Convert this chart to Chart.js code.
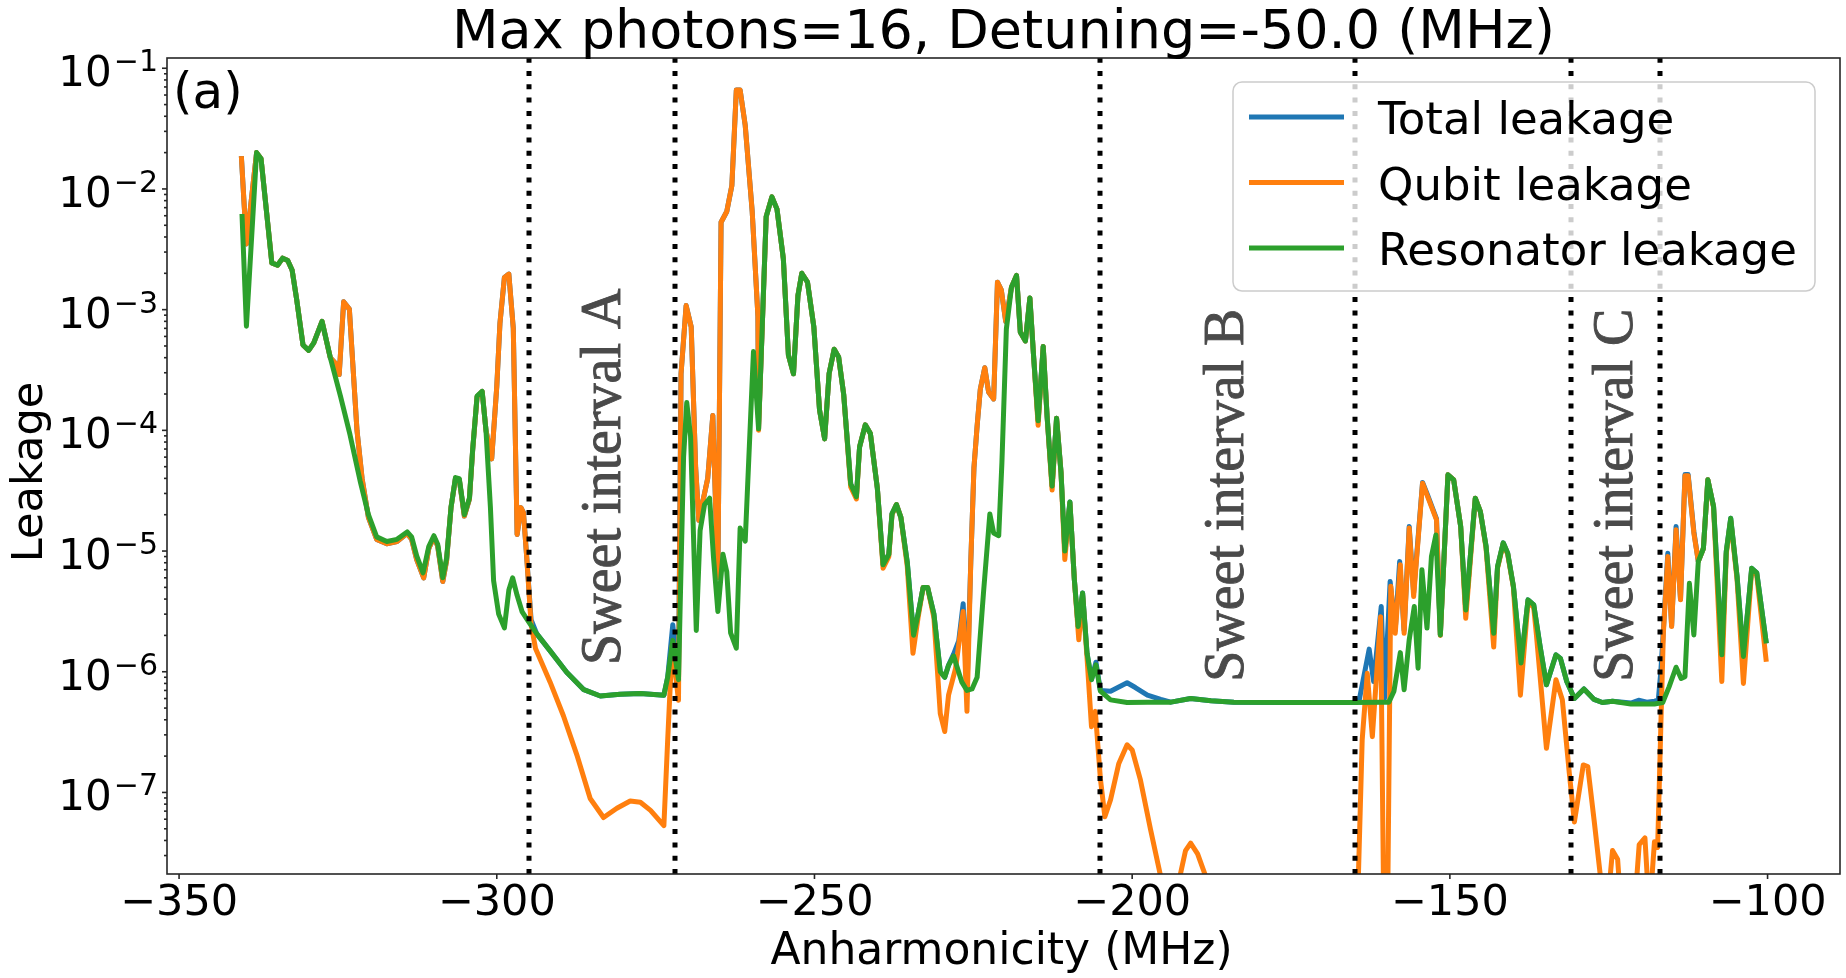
<!DOCTYPE html>
<html>
<head>
<meta charset="utf-8">
<title>Leakage vs anharmonicity</title>
<script src="https://cdn.jsdelivr.net/npm/chart.js@4.4.1/dist/chart.umd.min.js"></script>
<style>
  html, body { margin: 0; padding: 0; background: #fff; }
  canvas { display: block; }
</style>
</head>
<body>
<canvas id="leakage-chart" width="1846" height="978"></canvas>
<script>
// Leakage: [anharmonicity (MHz), leakage]
const resonatorLeakage = [
  [-340.1, 6.2e-3], [-339.4, 7.3e-4], [-337.8, 2.0e-2], [-337.1, 1.78e-2], [-335.4, 2.44e-3],
  [-334.5, 2.33e-3], [-333.7, 2.67e-3], [-332.9, 2.55e-3], [-332.2, 2.12e-3], [-331.5, 1.22e-3],
  [-330.5, 5.1e-4], [-329.6, 4.6e-4], [-328.8, 5.3e-4], [-327.5, 8.0e-4], [-326.2, 4.0e-4],
  [-324.6, 1.92e-4], [-323.1, 9.2e-5], [-321.5, 3.8e-5], [-320.2, 2.0e-5], [-318.9, 1.31e-5],
  [-317.3, 1.2e-5], [-315.7, 1.25e-5], [-314.1, 1.44e-5], [-313.4, 1.31e-5], [-312.6, 9.1e-6],
  [-311.6, 6.6e-6], [-310.7, 1.09e-5], [-309.9, 1.34e-5], [-309.3, 1.14e-5], [-308.5, 6.0e-6],
  [-307.9, 8.7e-6], [-307.2, 2.3e-5], [-306.5, 4.06e-5], [-305.9, 3.98e-5], [-305.1, 2.0e-5],
  [-304.3, 2.75e-5], [-303.8, 6.9e-5], [-303.1, 1.92e-4], [-302.3, 2.1e-4], [-301.7, 1.0e-4],
  [-301.0, 2.3e-5], [-300.5, 5.7e-6], [-299.7, 3.0e-6], [-298.8, 2.31e-6], [-298.1, 4.75e-6],
  [-297.5, 6.0e-6], [-296.8, 4.3e-6], [-296.0, 3.13e-6], [-295.0, 2.6e-6], [-293.7, 2.06e-6],
  [-291.6, 1.49e-6], [-289.0, 9.9e-7], [-286.3, 7.1e-7], [-283.7, 6.3e-7], [-280.6, 6.5e-7],
  [-277.4, 6.6e-7], [-275.8, 6.5e-7], [-273.7, 6.4e-7], [-273.1, 9.0e-7], [-272.3, 1.82e-6],
  [-271.4, 8.6e-7], [-270.6, 6.0e-5], [-270.1, 1.7e-4], [-269.5, 8.9e-5], [-268.6, 2.2e-6],
  [-268.0, 1.48e-5], [-267.3, 2.43e-5], [-266.5, 2.74e-5], [-265.9, 9.0e-6], [-265.2, 3.15e-6],
  [-264.4, 9.4e-6], [-263.8, 6.7e-6], [-263.2, 2.1e-6], [-262.3, 1.57e-6], [-261.7, 1.55e-5],
  [-260.9, 1.21e-5], [-259.6, 4.5e-4], [-258.8, 1.03e-4], [-257.6, 5.9e-3], [-256.7, 8.6e-3],
  [-255.9, 6.8e-3], [-254.9, 2.65e-3], [-254.1, 4.2e-4], [-253.3, 2.94e-4], [-252.6, 1.31e-3],
  [-252.0, 2.0e-3], [-251.1, 1.69e-3], [-250.1, 7.2e-4], [-249.2, 1.47e-4], [-248.4, 8.5e-5],
  [-247.7, 2.94e-4], [-246.9, 4.7e-4], [-246.2, 4.06e-4], [-245.4, 1.98e-4], [-244.3, 3.6e-5],
  [-243.4, 2.82e-5], [-242.9, 7.3e-5], [-242.0, 1.11e-4], [-241.2, 9.4e-5], [-240.1, 3.3e-5],
  [-239.2, 7.7e-6], [-238.3, 9.4e-6], [-237.8, 2.03e-5], [-237.1, 2.43e-5], [-236.4, 1.9e-5],
  [-235.4, 8.1e-6], [-234.4, 2.01e-6], [-233.7, 3.0e-6], [-232.9, 5.0e-6], [-232.2, 5.0e-6],
  [-231.2, 3.0e-6], [-230.2, 1.0e-6], [-229.5, 9.0e-7], [-228.9, 1.13e-6], [-228.1, 1.35e-6],
  [-226.8, 8.2e-7], [-226.0, 7.0e-7], [-225.2, 7.2e-7], [-224.4, 9.0e-7], [-223.4, 4.5e-6],
  [-222.4, 2.03e-5], [-221.8, 1.41e-5], [-221.0, 1.34e-5], [-220.5, 5.4e-5], [-219.8, 6.9e-4],
  [-219.0, 1.53e-3], [-218.2, 1.92e-3], [-217.6, 6.5e-4], [-216.8, 5.5e-4], [-216.1, 1.25e-3],
  [-215.5, 4.0e-4], [-214.8, 1.2e-4], [-214.0, 4.95e-4], [-213.4, 1.33e-4], [-212.6, 3.45e-5],
  [-211.9, 1.26e-4], [-211.2, 4.5e-5], [-210.6, 1.0e-5], [-209.8, 2.55e-5], [-209.1, 5.8e-6],
  [-208.5, 2.37e-6], [-207.8, 4.5e-6], [-207.1, 1.42e-6], [-206.4, 8.6e-7], [-205.7, 1.14e-6],
  [-205.0, 6.9e-7], [-203.4, 5.85e-7], [-200.8, 5.56e-7], [-197.6, 5.6e-7], [-193.9, 5.6e-7],
  [-190.8, 6.0e-7], [-187.6, 5.74e-7], [-184.0, 5.6e-7], [-175.0, 5.55e-7], [-165.1, 5.56e-7],
  [-160.9, 5.6e-7], [-159.6, 5.6e-7], [-158.8, 6.9e-7], [-157.8, 1.44e-6], [-157.2, 7.1e-7],
  [-156.4, 1.84e-6], [-155.6, 3.47e-6], [-155.0, 1.07e-6], [-154.4, 7.0e-6], [-153.6, 2.3e-6],
  [-152.9, 9.0e-6], [-152.2, 1.36e-5], [-151.5, 2.02e-6], [-150.3, 4.28e-5], [-149.4, 3.88e-5],
  [-148.3, 1.6e-5], [-147.5, 3.25e-6], [-146.0, 2.74e-5], [-145.2, 2.12e-5], [-144.3, 1.09e-5],
  [-143.1, 2.08e-6], [-142.5, 7.4e-6], [-141.6, 1.17e-5], [-140.9, 9.6e-6], [-140.0, 5.1e-6],
  [-138.8, 1.18e-6], [-137.7, 3.94e-6], [-136.8, 3.58e-6], [-135.8, 1.62e-6], [-134.8, 7.8e-7],
  [-133.3, 1.38e-6], [-132.6, 1.29e-6], [-131.6, 8.3e-7], [-130.4, 6.0e-7], [-128.9, 7.2e-7],
  [-127.3, 5.9e-7], [-126.0, 5.56e-7], [-124.4, 5.7e-7], [-121.5, 5.4e-7], [-117.8, 5.4e-7],
  [-116.5, 5.56e-7], [-115.5, 7.5e-7], [-114.4, 1.09e-6], [-113.6, 8.8e-7], [-113.0, 9.1e-7],
  [-112.3, 5.4e-6], [-111.6, 2.02e-6], [-110.9, 8.2e-6], [-110.1, 1.05e-5], [-109.4, 3.9e-5],
  [-108.5, 2.34e-5], [-107.2, 1.38e-6], [-106.5, 9.9e-6], [-105.8, 1.87e-5], [-104.8, 6.15e-6],
  [-103.8, 1.34e-6], [-102.5, 7.2e-6], [-101.7, 6.6e-6], [-100.2, 1.72e-6],
];

const qubitLeakage = [
  [-340.2, 1.87e-2], [-339.4, 3.5e-3], [-337.8, 2.0e-2], [-337.1, 1.78e-2], [-335.4, 2.44e-3],
  [-334.5, 2.33e-3], [-333.7, 2.67e-3], [-332.9, 2.55e-3], [-332.2, 2.12e-3], [-331.5, 1.22e-3],
  [-330.5, 5.1e-4], [-329.6, 4.6e-4], [-328.8, 5.3e-4], [-327.5, 8.0e-4], [-326.2, 4.0e-4],
  [-325.4, 3.6e-4], [-324.8, 2.9e-4], [-324.1, 1.16e-3], [-323.2, 1.01e-3], [-322.0, 1.0e-4],
  [-321.2, 4.0e-5], [-320.2, 1.9e-5], [-318.9, 1.25e-5], [-317.3, 1.15e-5], [-315.7, 1.2e-5],
  [-314.1, 1.4e-5], [-313.4, 1.25e-5], [-312.6, 8.5e-6], [-311.5, 6.0e-6], [-310.7, 1.05e-5],
  [-309.9, 1.3e-5], [-309.3, 1.1e-5], [-308.5, 5.6e-6], [-307.9, 8.3e-6], [-307.2, 2.3e-5],
  [-306.5, 4.0e-5], [-305.9, 3.9e-5], [-305.1, 1.95e-5], [-304.3, 2.7e-5], [-303.8, 6.8e-5],
  [-303.1, 1.9e-4], [-302.3, 2.1e-4], [-301.7, 1.0e-4], [-300.8, 5.8e-5], [-300.0, 2.3e-4],
  [-299.5, 7.7e-4], [-298.8, 1.85e-3], [-298.1, 1.97e-3], [-297.4, 7.0e-4], [-296.8, 1.37e-5],
  [-296.2, 2.29e-5], [-295.8, 2.08e-5], [-295.3, 9.1e-6], [-294.6, 2.48e-6], [-293.9, 1.56e-6],
  [-291.6, 8.2e-7], [-289.5, 4.3e-7], [-287.4, 2.05e-7], [-285.3, 8.9e-8], [-283.2, 6.2e-8],
  [-281.1, 7.4e-8], [-279.0, 8.5e-8], [-277.4, 8.3e-8], [-275.8, 7.1e-8], [-273.7, 5.3e-8],
  [-273.1, 2.73e-7], [-272.4, 1.64e-6], [-271.4, 5.8e-7], [-271.0, 2.94e-4], [-270.2, 1.08e-3],
  [-269.4, 7.2e-4], [-268.7, 4.9e-5], [-268.2, 1.8e-5], [-266.8, 4.0e-5], [-266.0, 1.33e-4],
  [-265.2, 6.0e-6], [-264.7, 5.3e-3], [-263.8, 6.5e-3], [-263.0, 1.07e-2], [-262.3, 6.6e-2],
  [-261.7, 6.6e-2], [-260.9, 3.37e-2], [-259.8, 6.5e-3], [-258.9, 8.8e-4], [-258.8, 1.0e-4],
  [-257.6, 5.9e-3], [-256.7, 8.6e-3], [-255.9, 6.8e-3], [-254.9, 2.65e-3], [-254.1, 4.2e-4],
  [-253.3, 2.94e-4], [-252.6, 1.31e-3], [-252.0, 2.0e-3], [-251.1, 1.69e-3], [-250.1, 7.2e-4],
  [-249.2, 1.47e-4], [-248.4, 8.5e-5], [-247.7, 2.94e-4], [-246.9, 4.7e-4], [-246.2, 4.06e-4],
  [-245.4, 1.98e-4], [-244.3, 3.4e-5], [-243.4, 2.7e-5], [-242.9, 7.3e-5], [-242.0, 1.11e-4],
  [-241.2, 9.4e-5], [-240.1, 3.3e-5], [-239.2, 7.2e-6], [-238.3, 9.0e-6], [-237.8, 2.0e-5],
  [-237.1, 2.43e-5], [-236.4, 1.9e-5], [-235.4, 7.5e-6], [-234.5, 1.42e-6], [-233.7, 2.8e-6],
  [-232.9, 5.0e-6], [-232.2, 5.0e-6], [-231.2, 2.8e-6], [-230.2, 4.5e-7], [-229.5, 3.2e-7],
  [-228.9, 6.4e-7], [-227.8, 1.06e-6], [-226.6, 3.15e-6], [-226.0, 4.7e-7], [-225.4, 8.1e-6],
  [-224.9, 4.9e-5], [-224.4, 1.09e-4], [-223.9, 2.19e-4], [-223.2, 3.3e-4], [-222.6, 2.08e-4],
  [-221.8, 1.82e-4], [-221.2, 1.69e-3], [-220.6, 1.46e-3], [-219.9, 8.0e-4], [-219.0, 1.53e-3],
  [-218.2, 1.92e-3], [-217.6, 6.5e-4], [-216.8, 5.5e-4], [-216.1, 1.25e-3], [-215.5, 4.0e-4],
  [-214.8, 1.1e-4], [-214.0, 4.95e-4], [-213.4, 1.33e-4], [-212.6, 3.2e-5], [-211.9, 1.26e-4],
  [-211.2, 4.5e-5], [-210.6, 8.5e-6], [-209.8, 2.5e-5], [-209.1, 5.8e-6], [-208.4, 1.84e-6],
  [-207.8, 4.3e-6], [-207.1, 1.3e-6], [-206.4, 3.5e-7], [-205.8, 4.7e-7], [-205.0, 1.3e-7],
  [-204.3, 6.3e-8], [-203.4, 8.7e-8], [-202.1, 1.74e-7], [-200.8, 2.48e-7], [-200.0, 2.25e-7],
  [-198.7, 1.27e-7], [-197.1, 4.9e-8], [-195.5, 2.0e-8], [-194.6, 1.0e-8], [-193.1, 1.0e-8],
  [-192.5, 2.0e-8], [-191.6, 3.3e-8], [-190.8, 3.8e-8], [-189.7, 3.1e-8], [-188.4, 2.0e-8],
  [-187.6, 1.0e-8], [-165.5, 1.0e-8], [-164.4, 2.0e-8], [-163.8, 2.72e-7], [-163.0, 9.7e-7],
  [-162.2, 2.9e-7], [-160.9, 2.86e-6], [-160.4, 1.0e-8], [-159.8, 1.0e-8], [-159.3, 5.1e-6],
  [-158.6, 2.08e-6], [-157.8, 7.7e-6], [-157.2, 2.08e-6], [-156.4, 1.55e-5], [-155.7, 4.2e-6],
  [-154.3, 3.65e-5], [-153.5, 2.82e-5], [-152.1, 1.81e-5], [-151.5, 2.0e-6], [-150.3, 4.28e-5],
  [-149.4, 3.88e-5], [-148.3, 1.6e-5], [-147.5, 2.77e-6], [-146.0, 2.74e-5], [-145.2, 2.12e-5],
  [-144.3, 1.05e-5], [-143.1, 1.6e-6], [-142.5, 7.2e-6], [-141.6, 1.15e-5], [-140.9, 9.4e-6],
  [-140.0, 5.0e-6], [-138.9, 6.4e-7], [-137.7, 3.8e-6], [-136.8, 3.4e-6], [-136.4, 2.08e-6],
  [-134.8, 2.32e-7], [-133.3, 8.6e-7], [-132.3, 5.85e-7], [-131.2, 1.44e-7], [-130.4, 5.7e-8],
  [-129.0, 1.69e-7], [-128.3, 1.64e-7], [-127.3, 5.9e-8], [-126.2, 1.8e-8], [-125.3, 1.0e-8],
  [-124.4, 3.3e-8], [-123.6, 2.8e-8], [-123.0, 1.0e-8], [-121.0, 1.0e-8], [-120.2, 3.7e-8],
  [-119.3, 4.2e-8], [-118.6, 1.0e-8], [-117.8, 3.9e-8], [-117.3, 3.5e-8], [-116.8, 3.5e-7],
  [-116.4, 2.08e-6], [-115.7, 9.0e-6], [-115.1, 2.37e-6], [-114.4, 1.5e-5], [-113.7, 3.94e-6],
  [-113.0, 4.2e-5], [-112.5, 4.2e-5], [-111.6, 1.41e-5], [-110.9, 8.2e-6], [-110.1, 1.05e-5],
  [-109.4, 3.9e-5], [-108.5, 2.3e-5], [-107.2, 8.3e-7], [-106.5, 9.5e-6], [-105.8, 1.8e-5],
  [-104.8, 5.8e-6], [-103.8, 8.0e-7], [-102.5, 7.0e-6], [-101.7, 6.3e-6], [-100.2, 1.21e-6],
];

const totalLeakage = [
  [-340.2, 1.87e-2], [-339.4, 3.5e-3], [-337.8, 2.0e-2], [-337.1, 1.78e-2], [-335.4, 2.44e-3],
  [-334.5, 2.33e-3], [-333.7, 2.67e-3], [-332.9, 2.55e-3], [-332.2, 2.12e-3], [-331.5, 1.22e-3],
  [-330.5, 5.1e-4], [-329.6, 4.6e-4], [-328.8, 5.3e-4], [-327.5, 8.0e-4], [-326.2, 4.0e-4],
  [-325.4, 3.6e-4], [-324.8, 2.9e-4], [-324.1, 1.16e-3], [-323.2, 1.01e-3], [-322.0, 1.0e-4],
  [-321.2, 4.0e-5], [-320.2, 1.9e-5], [-318.9, 1.25e-5], [-317.3, 1.15e-5], [-315.7, 1.2e-5],
  [-314.1, 1.4e-5], [-313.4, 1.25e-5], [-312.6, 8.5e-6], [-311.5, 6.0e-6], [-310.7, 1.05e-5],
  [-309.9, 1.3e-5], [-309.3, 1.1e-5], [-308.5, 5.6e-6], [-307.9, 8.3e-6], [-307.2, 2.3e-5],
  [-306.5, 4.0e-5], [-305.9, 3.9e-5], [-305.1, 1.95e-5], [-304.3, 2.7e-5], [-303.8, 6.8e-5],
  [-303.1, 1.9e-4], [-302.3, 2.1e-4], [-301.7, 1.0e-4], [-300.8, 5.8e-5], [-300.0, 2.3e-4],
  [-299.5, 7.7e-4], [-298.8, 1.85e-3], [-298.1, 1.97e-3], [-297.4, 7.0e-4], [-296.8, 1.37e-5],
  [-296.2, 2.29e-5], [-295.8, 2.08e-5], [-295.3, 9.1e-6], [-294.6, 2.7e-6], [-293.7, 2.06e-6],
  [-291.6, 1.49e-6], [-289.0, 9.9e-7], [-286.3, 7.1e-7], [-283.7, 6.3e-7], [-280.6, 6.5e-7],
  [-277.4, 6.6e-7], [-275.8, 6.5e-7], [-273.7, 6.4e-7], [-273.1, 9.0e-7], [-272.3, 2.45e-6],
  [-271.4, 8.6e-7], [-271.0, 2.94e-4], [-270.2, 1.08e-3], [-269.4, 7.2e-4], [-268.7, 4.9e-5],
  [-268.2, 1.8e-5], [-266.8, 4.0e-5], [-266.0, 1.33e-4], [-265.2, 6.0e-6], [-264.7, 5.3e-3],
  [-263.8, 6.5e-3], [-263.0, 1.07e-2], [-262.3, 6.6e-2], [-261.7, 6.6e-2], [-260.9, 3.37e-2],
  [-259.8, 6.5e-3], [-258.9, 8.8e-4], [-258.8, 1.03e-4], [-257.6, 5.9e-3], [-256.7, 8.6e-3],
  [-255.9, 6.8e-3], [-254.9, 2.65e-3], [-254.1, 4.2e-4], [-253.3, 2.94e-4], [-252.6, 1.31e-3],
  [-252.0, 2.0e-3], [-251.1, 1.69e-3], [-250.1, 7.2e-4], [-249.2, 1.47e-4], [-248.4, 8.5e-5],
  [-247.7, 2.94e-4], [-246.9, 4.7e-4], [-246.2, 4.06e-4], [-245.4, 1.98e-4], [-244.3, 3.6e-5],
  [-243.4, 2.82e-5], [-242.9, 7.3e-5], [-242.0, 1.11e-4], [-241.2, 9.4e-5], [-240.1, 3.3e-5],
  [-239.2, 7.7e-6], [-238.3, 9.4e-6], [-237.8, 2.03e-5], [-237.1, 2.43e-5], [-236.4, 1.9e-5],
  [-235.4, 8.1e-6], [-234.4, 2.01e-6], [-233.7, 3.0e-6], [-232.9, 5.0e-6], [-232.2, 5.0e-6],
  [-231.2, 3.0e-6], [-230.2, 1.0e-6], [-229.5, 9.0e-7], [-228.9, 1.13e-6], [-228.1, 1.4e-6],
  [-227.3, 1.8e-6], [-226.6, 3.66e-6], [-226.0, 7.0e-7], [-225.4, 8.1e-6], [-224.9, 4.9e-5],
  [-224.4, 1.09e-4], [-223.9, 2.19e-4], [-223.2, 3.3e-4], [-222.6, 2.08e-4], [-221.8, 1.82e-4],
  [-221.2, 1.69e-3], [-220.6, 1.46e-3], [-219.9, 8.0e-4], [-219.0, 1.53e-3], [-218.2, 1.92e-3],
  [-217.6, 6.5e-4], [-216.8, 5.5e-4], [-216.1, 1.25e-3], [-215.5, 4.0e-4], [-214.8, 1.2e-4],
  [-214.0, 4.95e-4], [-213.4, 1.33e-4], [-212.6, 3.45e-5], [-211.9, 1.26e-4], [-211.2, 4.5e-5],
  [-210.6, 1.0e-5], [-209.8, 2.55e-5], [-209.1, 5.8e-6], [-208.5, 2.37e-6], [-207.8, 4.5e-6],
  [-207.1, 1.42e-6], [-206.4, 8.6e-7], [-205.7, 1.2e-6], [-205.0, 7.0e-7], [-203.4, 6.9e-7],
  [-200.8, 8.1e-7], [-199.5, 7.4e-7], [-197.6, 6.4e-7], [-195.5, 5.9e-7], [-193.9, 5.6e-7],
  [-190.8, 6.0e-7], [-187.6, 5.74e-7], [-184.0, 5.6e-7], [-175.0, 5.55e-7], [-165.1, 5.56e-7],
  [-164.3, 5.7e-7], [-162.7, 1.54e-6], [-162.0, 8.3e-7], [-160.8, 3.47e-6], [-160.3, 6.0e-7],
  [-159.4, 5.6e-6], [-158.6, 2.2e-6], [-157.9, 8.2e-6], [-157.2, 2.2e-6], [-156.4, 1.6e-5],
  [-155.7, 4.5e-6], [-154.3, 3.7e-5], [-153.5, 2.9e-5], [-152.1, 1.85e-5], [-151.5, 2.02e-6],
  [-150.3, 4.28e-5], [-149.4, 3.88e-5], [-148.3, 1.6e-5], [-147.5, 3.25e-6], [-146.0, 2.74e-5],
  [-145.2, 2.12e-5], [-144.3, 1.09e-5], [-143.1, 2.08e-6], [-142.5, 7.4e-6], [-141.6, 1.17e-5],
  [-140.9, 9.6e-6], [-140.0, 5.1e-6], [-138.8, 1.18e-6], [-137.7, 3.94e-6], [-136.8, 3.58e-6],
  [-135.8, 1.62e-6], [-134.8, 7.8e-7], [-133.3, 1.38e-6], [-132.6, 1.29e-6], [-131.6, 8.3e-7],
  [-130.4, 6.0e-7], [-128.9, 7.2e-7], [-127.3, 5.9e-7], [-126.0, 5.56e-7], [-124.4, 5.7e-7],
  [-121.5, 5.5e-7], [-120.3, 5.8e-7], [-119.0, 5.6e-7], [-117.8, 5.7e-7], [-117.2, 5.8e-7],
  [-116.8, 1.0e-6], [-116.4, 2.2e-6], [-115.7, 9.6e-6], [-115.1, 2.4e-6], [-114.4, 1.6e-5],
  [-113.7, 4.0e-6], [-113.0, 4.3e-5], [-112.5, 4.3e-5], [-111.6, 1.45e-5], [-110.9, 8.2e-6],
  [-110.1, 1.05e-5], [-109.4, 3.9e-5], [-108.5, 2.34e-5], [-107.2, 1.38e-6], [-106.5, 9.9e-6],
  [-105.8, 1.87e-5], [-104.8, 6.15e-6], [-103.8, 1.34e-6], [-102.5, 7.2e-6], [-101.7, 6.6e-6],
  [-100.2, 1.72e-6],
];

// Sweet-interval boundaries (MHz) and their labels
const sweetBounds = [-295, -272, -205, -165, -131, -117];
const sweetLabels = ["Sweet interval A", "Sweet interval B", "Sweet interval C"];
const sweetLabelAnchors = [[-280.6, 1.14e-6], [-182.6, 8.25e-7], [-121.4, 8.25e-7]];

// Axis ticks
const xTicks = [-350, -300, -250, -200, -150, -100];
const yTickExponents = [-7, -6, -5, -4, -3, -2, -1];

const MINUS = "\u2212";
const SANS = "'DejaVu Sans', sans-serif";
const LINE_WIDTH = 5;

function toPoints(pairs) {
  return pairs.map((p) => ({ x: p[0], y: p[1] }));
}

// Draws the matplotlib-style frame, ticks, labels, markers and legend
const figureDecorations = {
  id: "figureDecorations",
  beforeDraw(chart) {
    const ctx = chart.ctx;
    ctx.save();
    ctx.fillStyle = "#ffffff";
    ctx.fillRect(0, 0, chart.width, chart.height);
    ctx.restore();
  },
  afterDatasetsDraw(chart) {
    const { ctx, chartArea: area } = chart;
    const xs = chart.scales.x;
    const ys = chart.scales.y;

    // dotted boundaries of the sweet intervals
    ctx.save();
    ctx.beginPath();
    ctx.rect(area.left, area.top, area.right - area.left, area.bottom - area.top);
    ctx.clip();
    ctx.strokeStyle = "#000000";
    ctx.lineWidth = 5;
    ctx.lineCap = "butt";
    ctx.setLineDash([5, 8.3]);
    sweetBounds.forEach((v) => {
      const px = Math.round(xs.getPixelForValue(v));
      ctx.beginPath();
      ctx.moveTo(px, area.bottom);
      ctx.lineTo(px, area.top);
      ctx.stroke();
    });
    ctx.restore();

    // rotated interval labels
    ctx.save();
    ctx.fillStyle = "#4a4a4a";
    ctx.strokeStyle = "#4a4a4a";
    ctx.lineWidth = 0.9;
    ctx.font = "56px 'Liberation Serif', serif";
    ctx.textAlign = "left";
    ctx.textBaseline = "alphabetic";
    sweetLabels.forEach((text, i) => {
      const px = xs.getPixelForValue(sweetLabelAnchors[i][0]);
      const py = ys.getPixelForValue(sweetLabelAnchors[i][1]);
      ctx.save();
      ctx.translate(px, py);
      ctx.rotate(-Math.PI / 2);
      ctx.fillText(text, 0, 0);
      ctx.strokeText(text, 0, 0);
      ctx.restore();
    });
    ctx.restore();

    // panel tag
    ctx.save();
    ctx.fillStyle = "#000";
    ctx.font = "50px " + SANS;
    ctx.textAlign = "left";
    ctx.fillText("(a)", area.left + 6, area.top + 50);
    ctx.restore();
  },
  afterDraw(chart) {
    const { ctx, chartArea: area } = chart;
    const xs = chart.scales.x;
    const ys = chart.scales.y;
    const axisColor = "#262626";

    ctx.save();
    // frame
    ctx.strokeStyle = axisColor;
    ctx.lineWidth = 1.6;
    ctx.strokeRect(area.left, area.top, area.right - area.left, area.bottom - area.top);

    // x ticks and labels
    ctx.fillStyle = "#000";
    ctx.font = "43px " + SANS;
    ctx.textAlign = "center";
    ctx.textBaseline = "alphabetic";
    xTicks.forEach((v) => {
      const px = xs.getPixelForValue(v);
      ctx.beginPath();
      ctx.moveTo(px, area.bottom);
      ctx.lineTo(px, area.bottom + 5);
      ctx.stroke();
      ctx.fillText(MINUS + Math.abs(v), px, area.bottom + 41);
    });

    // y major ticks with 10^n labels
    yTickExponents.forEach((e) => {
      const py = ys.getPixelForValue(Math.pow(10, e));
      ctx.beginPath();
      ctx.moveTo(area.left, py);
      ctx.lineTo(area.left - 5, py);
      ctx.stroke();
      const sup = MINUS + Math.abs(e);
      const right = area.left - 9;
      ctx.textAlign = "right";
      ctx.font = "30px " + SANS;
      const supWidth = ctx.measureText(sup).width;
      ctx.fillText(sup, right, py + 3);
      ctx.font = "42px " + SANS;
      ctx.fillText("10", right - supWidth - 2, py + 18);
    });

    // y minor ticks
    for (let e = -8; e <= -1; e++) {
      for (let k = 2; k <= 9; k++) {
        const v = k * Math.pow(10, e);
        if (v < ys.min || v > ys.max) continue;
        const py = ys.getPixelForValue(v);
        ctx.beginPath();
        ctx.moveTo(area.left, py);
        ctx.lineTo(area.left - 3, py);
        ctx.stroke();
      }
    }

    // title and axis titles
    const midX = (area.left + area.right) / 2;
    ctx.textAlign = "center";
    ctx.font = "54px " + SANS;
    ctx.fillText("Max photons=16, Detuning=-50.0 (MHz)", midX, 48);
    ctx.font = "44px " + SANS;
    ctx.fillText("Anharmonicity (MHz)", midX - 2, 964);
    ctx.save();
    ctx.translate(42, (area.top + area.bottom) / 2 + 6);
    ctx.rotate(-Math.PI / 2);
    ctx.font = "43px " + SANS;
    ctx.fillText("Leakage", 0, 0);
    ctx.restore();

    // legend
    const box = { left: 1233, top: 82, width: 582, height: 209 };
    ctx.beginPath();
    ctx.roundRect(box.left, box.top, box.width, box.height, 9);
    ctx.fillStyle = "rgba(255,255,255,0.8)";
    ctx.fill();
    ctx.strokeStyle = "#cccccc";
    ctx.lineWidth = 1.5;
    ctx.stroke();
    ctx.font = "45px " + SANS;
    ctx.textAlign = "left";
    chart.data.datasets.forEach((ds, i) => {
      const rowY = 117 + i * 65.5;
      ctx.strokeStyle = ds.borderColor;
      ctx.lineWidth = LINE_WIDTH;
      ctx.beginPath();
      ctx.moveTo(box.left + 16, rowY);
      ctx.lineTo(box.left + 111, rowY);
      ctx.stroke();
      ctx.fillStyle = "#000";
      ctx.fillText(ds.label, box.left + 145, rowY + 17);
    });
    ctx.restore();
  },
};

const leakageChart = new Chart(document.getElementById("leakage-chart").getContext("2d"), {
  type: "line",
  data: {
    datasets: [
      { label: "Total leakage", data: toPoints(totalLeakage), borderColor: "#1f77b4", order: 2 },
      { label: "Qubit leakage", data: toPoints(qubitLeakage), borderColor: "#ff7f0e", order: 1 },
      { label: "Resonator leakage", data: toPoints(resonatorLeakage), borderColor: "#2ca02c", order: 0 },
    ],
  },
  options: {
    responsive: false,
    animation: false,
    devicePixelRatio: 1,
    events: [],
    layout: { padding: { left: 167, right: 6, top: 58, bottom: 104 } },
    datasets: { line: { clip: 0 } },
    elements: {
      line: { borderWidth: LINE_WIDTH, tension: 0, fill: false, borderJoinStyle: "round" },
      point: { radius: 0 },
    },
    scales: {
      x: { type: "linear", display: false, min: -351.9, max: -88.6 },
      y: { type: "logarithmic", display: false, min: 2.11e-8, max: 0.1216 },
    },
    plugins: {
      legend: { display: false },
      tooltip: { enabled: false },
    },
  },
  plugins: [figureDecorations],
});
</script>
</body>
</html>
